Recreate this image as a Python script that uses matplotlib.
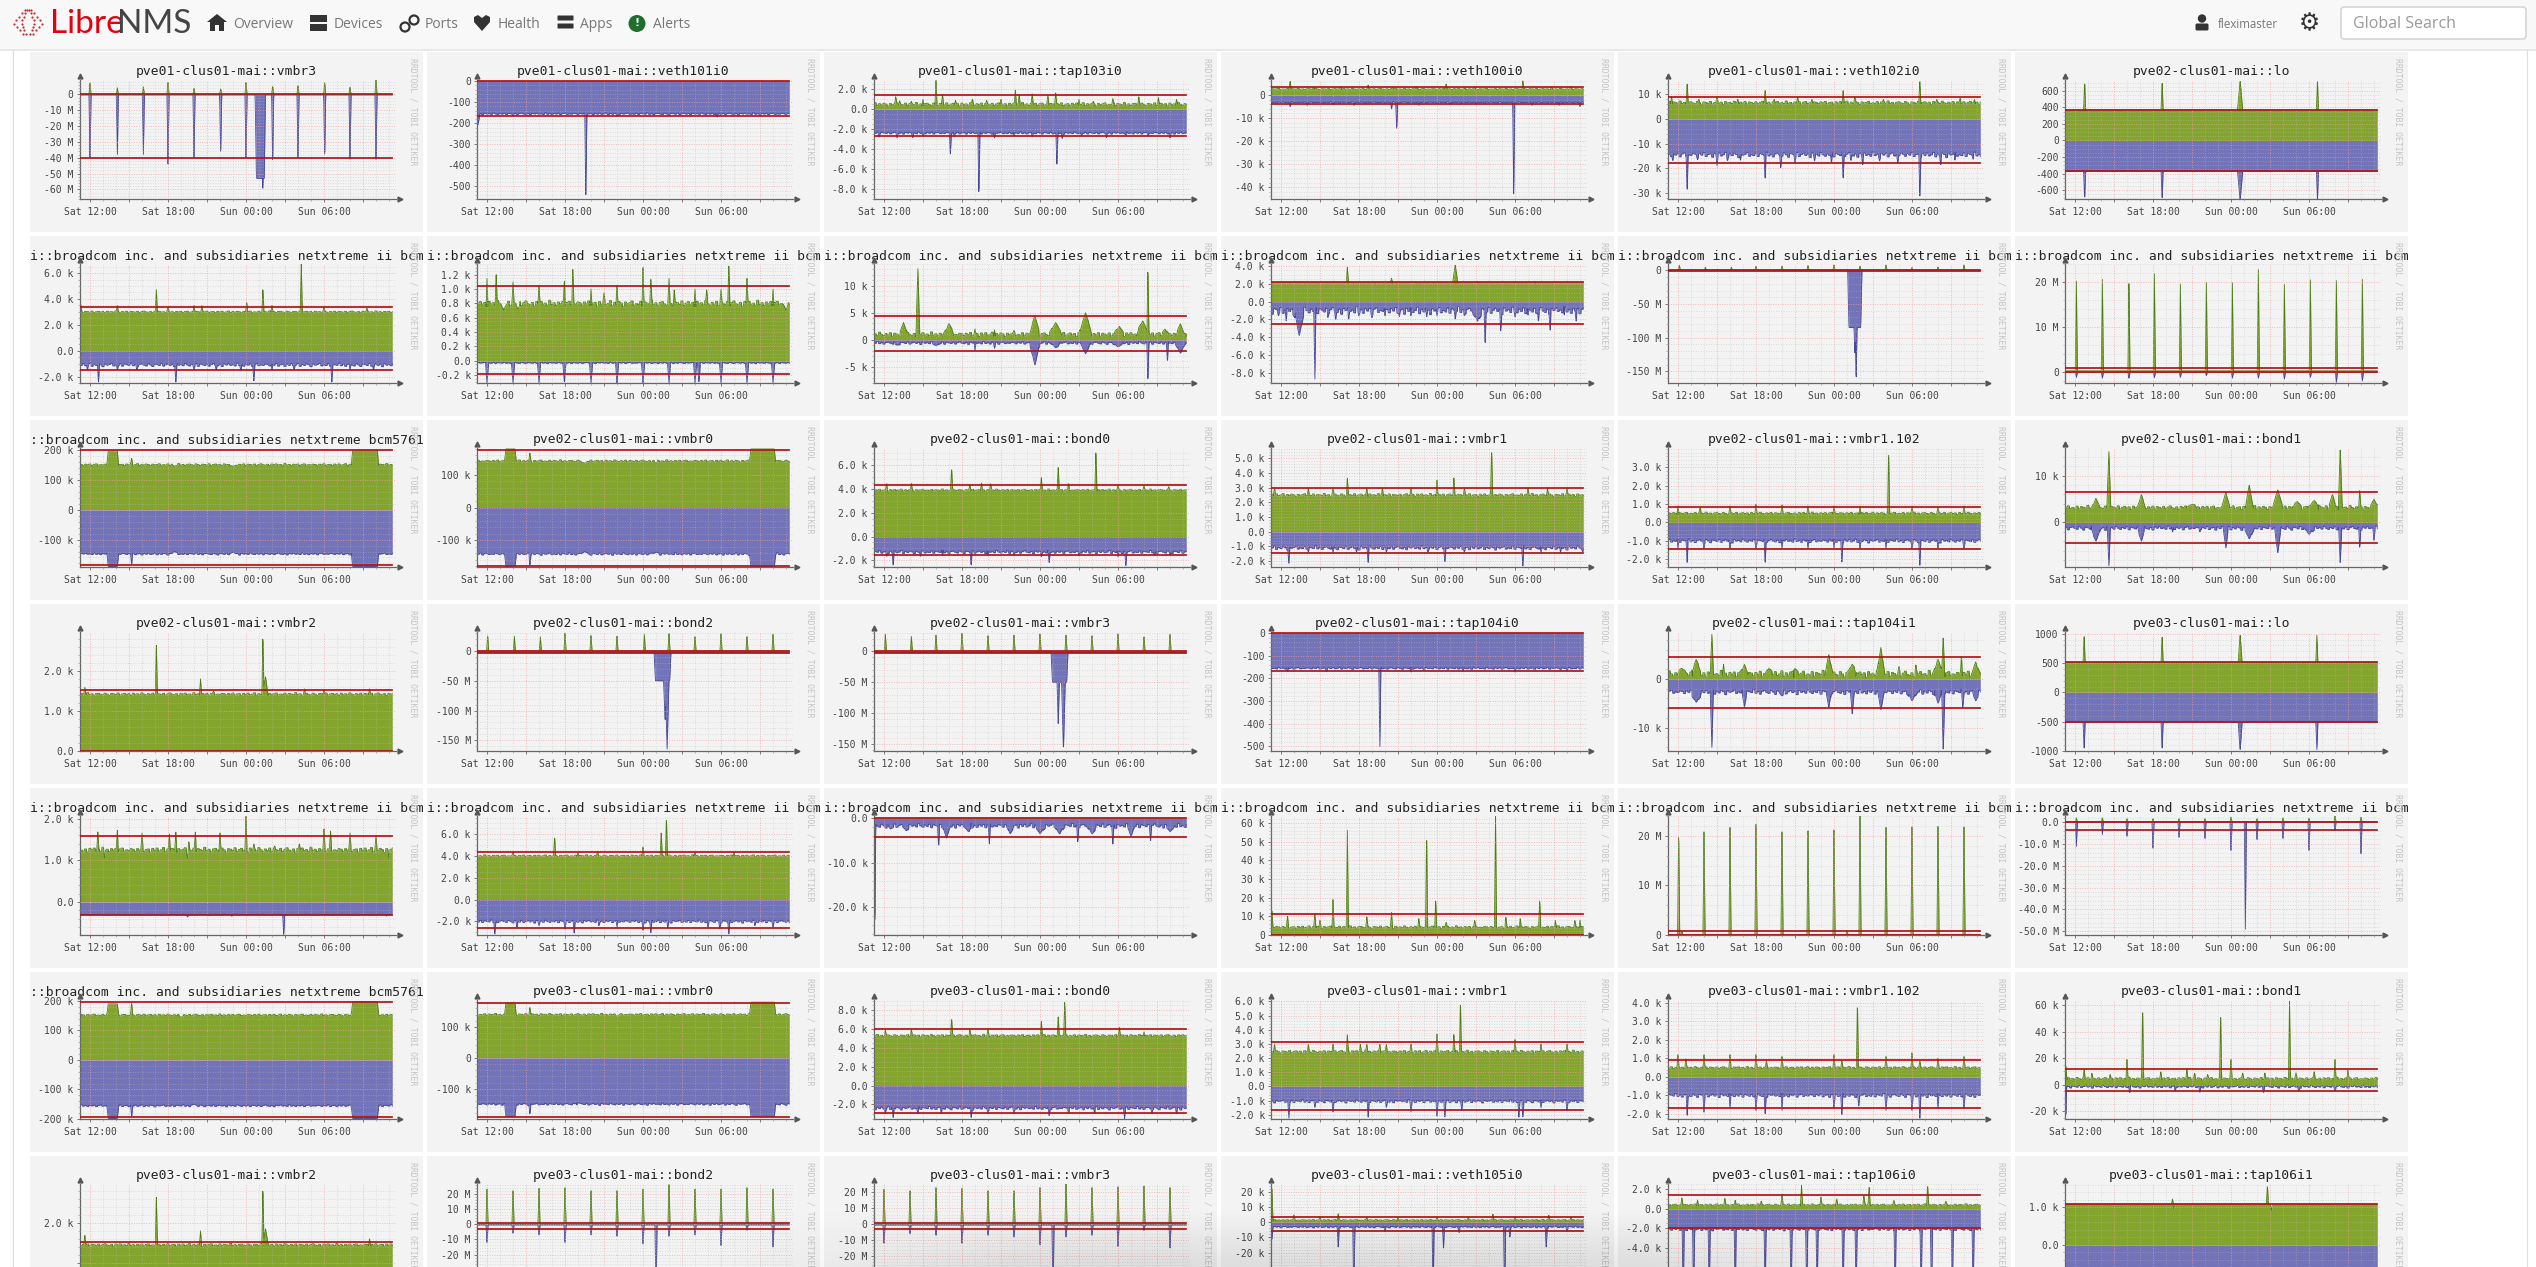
import numpy as np
import matplotlib
matplotlib.use("Agg")
import matplotlib.pyplot as plt
from matplotlib.patches import Rectangle, Circle, Polygon, FancyBboxPatch

BROAD_II = "i::broadcom inc. and subsidiaries netxtreme ii bcm"
BROAD_61 = "::broadcom inc. and subsidiaries netxtreme bcm5761"

TITLES = [
    "pve01-clus01-mai::vmbr3", "pve01-clus01-mai::veth101i0", "pve01-clus01-mai::tap103i0",
    "pve01-clus01-mai::veth100i0", "pve01-clus01-mai::veth102i0", "pve02-clus01-mai::lo",
    BROAD_II, BROAD_II, BROAD_II, BROAD_II, BROAD_II, BROAD_II,
    BROAD_61, "pve02-clus01-mai::vmbr0", "pve02-clus01-mai::bond0",
    "pve02-clus01-mai::vmbr1", "pve02-clus01-mai::vmbr1.102", "pve02-clus01-mai::bond1",
    "pve02-clus01-mai::vmbr2", "pve02-clus01-mai::bond2", "pve02-clus01-mai::vmbr3",
    "pve02-clus01-mai::tap104i0", "pve02-clus01-mai::tap104i1", "pve03-clus01-mai::lo",
    BROAD_II, BROAD_II, BROAD_II, BROAD_II, BROAD_II, BROAD_II,
    BROAD_61, "pve03-clus01-mai::vmbr0", "pve03-clus01-mai::bond0",
    "pve03-clus01-mai::vmbr1", "pve03-clus01-mai::vmbr1.102", "pve03-clus01-mai::bond1",
    "pve03-clus01-mai::vmbr2", "pve03-clus01-mai::bond2", "pve03-clus01-mai::vmbr3",
    "pve03-clus01-mai::veth105i0", "pve03-clus01-mai::tap106i0", "pve03-clus01-mai::tap106i1",
]

# tick labels, the numbers are read back from the strings
Y_LABELS = [
    ["0", "-10 M", "-20 M", "-30 M", "-40 M", "-50 M", "-60 M"],
    ["0", "-100", "-200", "-300", "-400", "-500"],
    ["2.0 k", "0.0", "-2.0 k", "-4.0 k", "-6.0 k", "-8.0 k"],
    ["0", "-10 k", "-20 k", "-30 k", "-40 k"],
    ["10 k", "0", "-10 k", "-20 k", "-30 k"],
    ["600", "400", "200", "0", "-200", "-400", "-600"],
    ["6.0 k", "4.0 k", "2.0 k", "0.0", "-2.0 k"],
    ["1.2 k", "1.0 k", "0.8 k", "0.6 k", "0.4 k", "0.2 k", "0.0", "-0.2 k"],
    ["10 k", "5 k", "0", "-5 k"],
    ["4.0 k", "2.0 k", "0.0", "-2.0 k", "-4.0 k", "-6.0 k", "-8.0 k"],
    ["0", "-50 M", "-100 M", "-150 M"],
    ["20 M", "10 M", "0"],
    ["200 k", "100 k", "0", "-100 k"],
    ["100 k", "0", "-100 k"],
    ["6.0 k", "4.0 k", "2.0 k", "0.0", "-2.0 k"],
    ["5.0 k", "4.0 k", "3.0 k", "2.0 k", "1.0 k", "0.0", "-1.0 k", "-2.0 k"],
    ["3.0 k", "2.0 k", "1.0 k", "0.0", "-1.0 k", "-2.0 k"],
    ["10 k", "0"],
    ["2.0 k", "1.0 k", "0.0"],
    ["0", "-50 M", "-100 M", "-150 M"],
    ["0", "-50 M", "-100 M", "-150 M"],
    ["0", "-100", "-200", "-300", "-400", "-500"],
    ["0", "-10 k"],
    ["1000", "500", "0", "-500", "-1000"],
    ["2.0 k", "1.0 k", "0.0"],
    ["6.0 k", "4.0 k", "2.0 k", "0.0", "-2.0 k"],
    ["0.0", "-10.0 k", "-20.0 k"],
    ["60 k", "50 k", "40 k", "30 k", "20 k", "10 k", "0"],
    ["20 M", "10 M", "0"],
    ["0.0", "-10.0 M", "-20.0 M", "-30.0 M", "-40.0 M", "-50.0 M"],
    ["200 k", "100 k", "0", "-100 k", "-200 k"],
    ["100 k", "0", "-100 k"],
    ["8.0 k", "6.0 k", "4.0 k", "2.0 k", "0.0", "-2.0 k"],
    ["6.0 k", "5.0 k", "4.0 k", "3.0 k", "2.0 k", "1.0 k", "0.0", "-1.0 k", "-2.0 k"],
    ["4.0 k", "3.0 k", "2.0 k", "1.0 k", "0.0", "-1.0 k", "-2.0 k"],
    ["60 k", "40 k", "20 k", "0", "-20 k"],
    ["2.0 k", "1.0 k"],
    ["20 M", "10 M", "0", "-10 M", "-20 M"],
    ["20 M", "10 M", "0", "-10 M", "-20 M"],
    ["20 k", "10 k", "0", "-10 k", "-20 k", "-30 k"],
    ["2.0 k", "0.0", "-2.0 k", "-4.0 k", "-6.0 k"],
    ["1.0 k", "0.0"],
]

Y_LOW = [-66.1, -560, -9.05, -45.1, -32.4, -709, -2.5, -0.31, -8, -9.1, -167.4, -2.4, -192, -183,
         -2.56, -2.4, -2.42, -9.5, 0, -168, -161, -522, -14.8, -1000, -0.79, -3.24, -26.2, 0, 0,
         -51.7, -200, -198, -3.55, -2.3, -2.27, -26, 0, -51.9, -49.7, -53.5, -9.7, -1.55]
Y_HIGH = [9.1, 6, 2.95, 6.5, 15.7, 733, 6.7, 1.35, 14, 4.2, 9.4, 24, 208, 183,
          7.44, 5.7, 4.05, 15.9, 2.97, 32, 31, 6, 9.6, 1030, 2.06, 7.64, 0.5, 63.8, 24,
          2.75, 203, 187, 9.08, 6.1, 4.15, 64, 2.97, 26.4, 25.3, 25.5, 2.55, 1.62]

IN_BASE = [0, 0, 0.5, 2.6, 6.5, 370, 3.0, 0.8, 1.0, 2.1, 0, 0.3, 152, 143,
           3.9, 2.5, 0.5, 3.2, 1.42, 0, 0, 0, 1.0, 510, 1.25, 4.0, 0, 4.2, 0.1,
           0, 152, 140, 5.3, 2.45, 0.5, 4.5, 1.45, 0, 0, 1.5, 0.4, 1.08]
OUT_BASE = [-0.3, -155, -2.4, -3.2, -14.5, -370, -1.1, -0.03, -0.6, -1.0, 0, 0, -148, -143,
            -1.3, -1.1, -1.0, -1.2, 0, -2, -2, -155, -2.7, -510, -0.3, -2.0, -1.7, 0, 0,
            0, -155, -150, -2.4, -1.05, -1.0, -1.5, 0, -0.5, -0.5, -3, -2.1, -1.08]
IN_95 = [0, 0, 1.4, 3.5, 9, 370, 3.35, 1.05, 4.4, 2.2, 0, 0.95, 200, 178,
         4.3, 2.95, 0.85, 6.6, 1.53, 0, 0, 0, 4.5, 510, 1.58, 4.35, 0, 11, 0.8,
         0, 195, 177, 6.05, 3.16, 0.93, 11.5, 1.53, 0.5, 0.7, 3.5, 1.4, 1.1]
OUT_95 = [-40, -165, -2.7, -3.8, -18, -370, -1.5, -0.19, -2.1, -2.55, -1, 0, -185, -180,
          -1.55, -1.43, -1.45, -4.4, 0, -4, -3, -165, -5.9, -510, -0.3, -2.6, -4.2, 0, 0,
          -3.6, -193, -191, -2.95, -1.65, -1.67, -4.5, 0, -3.3, -3.2, -5.5, -2.0, -1.1]

# how much each edge shakes around its base, same units as the labels
IN_SHAKE = [0, 0, 0.2, 0.3, 0.8, 0, 0.08, 0.05, 0.5, 0.02, 0, 0, 4, 4,
            0.1, 0.12, 0.07, 0.5, 0.04, 0, 0, 0, 0.8, 0, 0.07, 0.1, 0, 0.8, 0,
            0, 4, 4, 0.15, 0.12, 0.07, 1.2, 0.04, 0, 0, 0.6, 0.12, 0]
OUT_SHAKE = [0, 5, 0.12, 0.3, 1.2, 0, 0.15, 0.01, 0.3, 0.5, 0, 0, 4, 4,
             0.15, 0.15, 0.12, 0.5, 0, 0, 0, 5, 0.6, 0, 0.01, 0.15, 0.6, 0, 0,
             0, 4, 4, 0.2, 0.12, 0.12, 1.2, 0, 0, 0, 0.7, 0.18, 0]

# edge profile, 10 minute steps, scaled by the *_SHAKE lists
EDGE_SHAKE = [0.2, -0.5, 0.4, -0.1, 0.7, -0.6, 0.1, 0.3, -0.8, 0.5, -0.2, 0.6, -0.4, 0.0, 0.8, -0.7,
              0.3, -0.3, 0.5, 0.1, -0.9, 0.4, -0.1, 0.2, 0.7, -0.5, 0.0, -0.3, 0.6, -0.6, 0.4, 0.1,
              -0.2, 0.9, -0.4, 0.2, -0.7, 0.3, 0.5, -0.1, -0.5, 0.6, 0.0, -0.8, 0.4, 0.2, -0.3, 0.7,
              -0.6, 0.1, 0.5, -0.2, 0.3, -0.9, 0.6, -0.1, 0.2, -0.4, 0.8, 0.0, -0.5, 0.3, -0.2, 0.6,
              -0.7, 0.4, 0.1, -0.3, 0.5, -0.6, 0.2, 0.7, -0.1, -0.4, 0.3, -0.8, 0.5, 0.0, 0.6, -0.2,
              0.1, -0.5, 0.9, -0.3, 0.2, -0.6, 0.4, -0.1, 0.5, -0.7, 0.3, 0.6, -0.4, 0.0, -0.2, 0.4]

# peaks: (hour, value), or (hour, value, half width), or
# (hour, value, half width, flat half width). hour counts from Saturday 00:00
IN_PEAKS = [
    [(12, 7), (14.1, 4.4), (16.1, 5), (18, 7.5), (20, 3.8), (22.05, 3.8), (24, 7.5), (26.05, 5.5), (28, 5.5), (30.05, 8), (32, 4.4), (34, 9)],
    [],
    [(12.9, 1.3), (13.2, 0.9), (14.1, 0.8), (15, 1.0), (16, 2.9), (16.5, 1.5), (17.5, 0.9), (18.8, 1.1), (19.9, 0.9), (21, 1.0), (22.1, 2.0), (22.4, 1.5), (23.4, 1.6), (24.6, 1.5), (25.2, 1.8), (27, 1.0), (28.1, 0.8), (29.6, 1.1), (31.6, 1.3), (33.1, 1.2), (34.5, 1.0)],
    [(12.7, 6.3), (14.5, 3.4), (16.6, 3.6), (18.7, 4.5), (20.6, 3.3), (22.4, 3.5), (24.7, 5), (26.9, 3.5), (30.6, 6.3), (32.8, 3.4), (34.3, 3.8)],
    [(11.5, 9), (12.7, 15), (13.6, 8), (15, 9), (16.6, 8), (18.7, 12), (19.4, 8), (21.2, 9), (22.3, 8), (24.7, 12), (25.6, 9), (27.8, 8), (30.6, 15.5), (31.9, 8), (33.7, 8.5), (34.8, 8)],
    [(12.74, 730), (18.7, 730), (24.7, 730, 0.2), (30.65, 730)],
    [(11.3, 3.6), (14.1, 3.5), (17.1, 4.8), (18, 3.4), (20, 3.5), (20.6, 3.5), (24.05, 3.8), (25.3, 4.9), (26, 3.5), (28.25, 6.7), (30, 3.4), (33.3, 3.3)],
    [(12, 1.15), (12.7, 1.25), (13.3, 0.7, 0.2), (14, 1.1), (14.4, 0.72, 0.2), (16, 1.05), (17.95, 1.15), (18.6, 1.3), (20, 1.0), (21, 0.95), (22, 1.05), (24, 1.3), (24.6, 1.15), (26, 1.15), (26.4, 1.0), (28, 1.0), (28.9, 1.0), (30, 1.0), (30.6, 1.35), (32, 1.15), (34, 1.0), (35, 0.7, 0.2)],
    [(13.5, 3.2, 0.3), (14.6, 13.5, 0.15), (17, 3, 0.4), (19, 2), (20.5, 1.8), (22, 1.7), (23.6, 4.5, 0.4), (25.2, 3.2, 0.5), (27.5, 5, 0.5), (30.1, 2.5, 0.4), (31.9, 3.5, 0.5), (32.3, 13.8), (33.6, 2, 0.3), (34.8, 3, 0.3)],
    [(17.1, 3.9), (20.5, 2.6), (25.4, 4.1, 0.2), (27.1, 2.25), (31.5, 2.25)],
    [(12.1, 8), (14.1, 5), (16.1, 5), (18, 6), (20, 6), (22, 7), (24, 8), (26, 6), (28, 8), (30, 4), (32, 5), (34, 8)],
    [(12.1, 21.3), (14.1, 21.7), (16.15, 20.7), (18.1, 23), (20.1, 20.6), (22.1, 21), (24.1, 20.9), (26.1, 24), (28.1, 20.5), (30.1, 21.6), (32.1, 21.4), (34.1, 21.7)],
    [(13.75, 198, 0.1, 0.35), (15.2, 175), (18.5, 147, 0.3), (23, 146, 0.3), (33.15, 200, 0.1, 0.95)],
    [(13.8, 180, 0.1, 0.35), (15.3, 170), (19.5, 136, 0.3), (25, 138, 0.3), (33.2, 180, 0.1, 0.9)],
    [(12.2, 4.5), (14.1, 4.5), (17.2, 5.8), (18.6, 4.4), (19.5, 4.5), (20.2, 4.5), (24.1, 5), (25.4, 5.9), (26.2, 4.5), (28.3, 7.4), (30, 4.4), (32, 4.3), (33.9, 4.2)],
    [(11.5, 3), (14.1, 3), (16, 3), (17.1, 3.7), (18.6, 3), (19.8, 3), (22, 3), (24, 3.5), (25.3, 3.8), (26.1, 3), (28.2, 5.7), (31, 3), (32.5, 3), (34, 3)],
    [(12, 0.9), (13.7, 0.85), (16, 0.9), (18, 1), (20, 0.95), (22, 0.9), (24, 0.9), (26, 0.9), (28.2, 4), (30, 0.9), (32, 0.85), (34, 0.9)],
    [(13.6, 5.2, 0.3), (14.6, 15.5, 0.15), (17.1, 6, 0.3), (21, 3.9, 0.5), (23.6, 6.5, 0.3), (25.4, 8, 0.3), (27.6, 7, 0.4), (29.1, 4.5, 0.4), (30.4, 4.7, 0.5), (31.8, 6, 0.3), (32.4, 15.8, 0.15), (33.9, 7), (35, 5, 0.3)],
    [(11.6, 1.6), (17.1, 2.7), (20.5, 1.8), (21.5, 1.5), (25.3, 2.95), (25.5, 1.85, 0.2), (28.5, 1.55), (30, 1.52), (33.5, 1.55)],
    [(12.05, 28), (14.1, 26), (16.1, 25), (18, 30), (20, 26), (22, 25), (24.1, 29), (26, 29), (28, 24), (30, 29), (32, 24), (34, 28)],
    [(12.1, 29), (14.1, 25), (16, 26), (18, 29), (20, 25), (22, 26), (24, 28), (26, 26), (28, 25), (30, 28), (32, 23), (34, 27)],
    [],
    [(12.3, 2.2, 0.4), (13.4, 4, 0.4), (14.6, 9.4, 0.12), (15.5, 3), (17.1, 3, 0.3), (19, 2.2, 0.3), (21, 2.2, 0.3), (23.6, 5, 0.3), (25.4, 3, 0.4), (27.6, 6.5, 0.3), (29, 2.5), (30.3, 3), (32, 4, 0.4), (32.4, 8.6, 0.12), (33.8, 5), (34.9, 3.5, 0.3)],
    [(12.7, 1000), (18.7, 990), (24.7, 1000, 0.15), (30.6, 1000)],
    [(12.6, 1.7), (13.1, 1.05), (14.1, 1.75), (16, 1.65), (18.1, 1.65), (18.6, 1.7), (19.5, 1.05), (19.6, 1.45), (20.1, 1.7), (22, 1.65), (24, 2.05), (24.6, 1.4), (26.2, 1.35), (28.1, 1.4), (30, 1.75), (30.5, 1.7), (32, 1.65), (34, 1.6), (35, 1.05)],
    [(14, 4.4), (17.2, 5.8), (19, 4.3), (20.5, 4.4), (24, 4.8), (25.4, 6.2), (25.8, 7.6), (28, 4.3), (31, 4.35)],
    [],
    [(11.3, 14), (12.5, 10), (14.6, 12), (15, 8), (16, 19), (17.1, 59), (18.6, 10), (20.5, 12), (22.6, 9), (23.2, 56), (23.9, 19), (24.7, 7), (26.9, 8), (28.5, 63.5), (29.3, 10), (30.4, 9), (31.9, 19), (33.1, 8), (34.6, 8), (35, 8)],
    [(12.05, 22), (12.3, 0.8), (14, 20.8), (16, 21.7), (18, 22.3), (20, 20.8), (22, 21), (24, 21.2), (26, 24), (25, 0.9), (28, 21.7), (30, 21.8), (32, 21.9), (34, 21.8)],
    [(12.1, 2), (14.1, 2), (16, 1.5), (18, 1.5), (20, 1.5), (22, 1.5), (24, 2.2), (26, 1.5), (28, 1.8), (30, 1.8), (32, 2.7), (34, 2.2)],
    [(13.75, 190, 0.1, 0.35), (15.2, 195), (19, 145, 0.3), (33.15, 198, 0.1, 0.95)],
    [(13.8, 178, 0.1, 0.35), (15.3, 165), (22, 135, 0.3), (33.2, 180, 0.1, 0.9)],
    [(12.1, 5.9), (14.1, 6), (17.2, 7.2), (18.6, 6), (20, 6), (24.1, 6.9), (25.4, 7.4), (25.9, 9), (30.1, 6.2), (32, 5.7)],
    [(11.5, 3), (14.1, 3), (16, 3), (17.1, 3.7), (18.1, 3), (18.6, 3), (19.6, 3), (20.1, 3), (22, 3), (24, 3.7), (25.3, 3.8), (25.8, 6.1), (30, 3.3), (32, 3), (34, 3)],
    [(12, 1.2), (12.6, 1), (14, 1.2), (16, 1.2), (18, 1.2), (18.8, 0.9), (20, 1.1), (24, 1.2), (24.6, 0.9), (25.8, 4.1), (28, 1.1), (30, 1.3), (30.6, 0.9), (32, 1), (34, 1.1)],
    [(11.3, 15), (12.7, 12), (13.3, 9), (14.7, 8), (16, 19), (17.2, 60), (18.6, 10), (20.6, 12), (21.2, 9), (22.2, 8), (23.2, 56), (24, 19), (24.9, 9), (26.6, 9), (28.5, 63), (29, 9), (30.4, 10), (32, 19), (33, 11)],
    [(11.6, 1.7), (17.1, 2.7), (20.5, 1.8), (25.3, 2.95), (25.5, 1.85, 0.2), (33.5, 1.6)],
    [(12, 23), (14, 22), (16, 23.5), (18, 24), (20, 22), (22, 22), (24, 23), (26, 26), (28, 23), (30, 23), (32, 24), (34, 23)],
    [(12, 22), (14, 21), (16, 23), (18, 22.5), (20, 21), (22, 21), (24, 23), (26, 26), (28, 23), (30, 23.5), (32, 24), (34, 23)],
    [(11.3, 25), (13, 5), (15, 3.5), (16.4, 6), (18.6, 3.5), (21, 3.5), (24, 3.5), (26.4, 3.5), (28.3, 6), (30, 3.5), (32.6, 5), (34.3, 3.5)],
    [(12.3, 1.2), (13.5, 0.9), (15.6, 1.1), (16.4, 0.9), (18.4, 0.8), (20, 1.5), (21.5, 2.4), (23, 1.2), (24.2, 1.1), (26.3, 1.4), (26.7, 2.4), (28.6, 0.9), (31.2, 2.5), (32.6, 0.8)],
    [(19.5, 1.22), (19.6, 0.95), (26.8, 1.6), (27.1, 0.9)],
]
OUT_PEAKS = [
    [(12, -40), (14.1, -40), (16.1, -40), (18, -44), (20, -40), (22.05, -40), (24, -40), (25.1, -53, 0.1, 0.3), (25.3, -66.1), (26.05, -46), (28, -40), (30.05, -42), (32, -41), (34, -41)],
    [(11.3, -210, 0.15), (14, -165), (19.6, -560), (22, -168), (26, -165), (29.7, -172), (33, -165)],
    [(11.6, -2.8), (13, -2.9), (14.2, -2.9), (15, -2.7), (17.1, -4.6), (17.4, -2.8), (19.3, -9), (20.5, -2.9), (22, -2.7), (23.4, -2.8), (25.3, -5.9), (25.7, -3), (27.2, -2.7), (29.1, -2.9), (30.6, -2.7), (32.3, -2.7), (34, -2.9)],
    [(12.7, -5.2), (14, -4.5), (16, -4.2), (17.6, -4.5), (20.5, -6), (20.9, -15), (22.6, -4.5), (25, -4.2), (27, -4.2), (29.9, -45), (31.3, -4.5), (33.4, -4.5), (35, -5)],
    [(11.6, -17), (12.7, -30), (13.5, -16.5), (15, -19), (15.8, -17), (16.8, -17), (18.7, -25), (19.9, -20), (21, -18), (22.5, -17), (23.8, -18), (24.7, -25), (25.3, -17), (26.2, -19), (27.5, -17), (28.9, -18), (30.6, -32), (32.2, -19), (33.3, -17), (34.7, -16.5)],
    [(12.74, -730), (18.7, -730), (24.7, -730, 0.2), (30.65, -730)],
    [(11.8, -1.5), (12.65, -2.5), (14.1, -1.5), (15.6, -1.5), (18.6, -2.5), (20, -1.5), (21.7, -1.5), (23.6, -1.6), (24.6, -2.4), (26, -1.5), (27.7, -1.5), (30.6, -2.5), (32, -1.5), (33.8, -1.5)],
    [(12, -0.31, 0.12), (14, -0.31, 0.12), (16, -0.31, 0.12), (17.95, -0.31, 0.12), (20, -0.31, 0.12), (22, -0.31, 0.12), (24, -0.31, 0.12), (26, -0.31, 0.12), (28, -0.31, 0.12), (28.3, -0.31, 0.12), (30, -0.31, 0.12), (32, -0.31, 0.12), (34, -0.31, 0.12)],
    [(13, -1, 0.4), (16, -1.1, 0.4), (19, -2), (20.5, -1.6), (23.6, -4.7, 0.4), (25.2, -1.5, 0.4), (27.5, -2.6, 0.4), (30, -1.3, 0.5), (32.3, -8), (33.8, -4.2), (34.8, -2.5, 0.4)],
    [(11.8, -1.6), (12.4, -2.2), (13, -1.7), (13.4, -3.8, 0.4), (14.6, -9.1), (15.6, -1.8), (16.2, -2.1), (17.2, -2.1), (18, -1.6), (19, -1.8), (20, -1.6), (21.1, -1.7), (22, -1.6), (23.2, -1.8), (24, -1.6), (25.4, -2), (26.1, -1.6), (27.1, -2.2, 0.4), (27.7, -5), (28.9, -3.4), (30, -1.7), (31, -1.5), (31.8, -2.3), (32.7, -3.4), (33.8, -1.6), (34.7, -2.3)],
    [(25.6, -85, 0.1, 0.45), (25.6, -125, 0.2), (25.7, -167.4, 0.15)],
    [(12.1, -1.2), (14.1, -1.4), (16.15, -1.4), (18.1, -1.3), (20.1, -1.2), (22.1, -0.8), (24.1, -1.4), (26.1, -1.4), (28.1, -1.6), (30.1, -1.2), (32.1, -2.4), (34.1, -2)],
    [(13.75, -190, 0.1, 0.35), (15.2, -185), (18.5, -140, 0.3), (23, -142, 0.3), (33.15, -190, 0.1, 0.95)],
    [(13.8, -182, 0.1, 0.35), (15.3, -180), (19.5, -135, 0.3), (25, -137, 0.3), (33.2, -182, 0.1, 0.9)],
    [(12.2, -1.7), (12.7, -2.5), (14.8, -1.7), (16.5, -1.6), (18.7, -2.5), (20, -1.6), (22, -1.6), (24.1, -1.7), (24.7, -2.3), (27, -1.6), (30, -1.7), (30.6, -2.5), (32.8, -1.6), (34, -1.5)],
    [(12.6, -2.2), (14.1, -1.4), (16, -1.4), (17.8, -1.4), (18.7, -2.2), (20.1, -1.4), (23.3, -1.4), (24.6, -2.1), (26.1, -1.4), (30.6, -2.4), (32, -1.4), (33.5, -1.4), (35.2, -1.4)],
    [(12, -1.4), (12.7, -2.3), (14, -1.4), (16, -1.4), (18, -1.4), (18.7, -2.3), (20, -1.4), (22, -1.4), (24, -1.4), (24.6, -2.2), (26, -1.4), (28, -1.4), (30, -1.4), (30.6, -2.4), (32, -1.4), (34, -1.4)],
    [(13.6, -4, 0.4), (14.6, -9.5, 0.12), (17.1, -4, 0.3), (19.5, -2), (21.6, -2), (23.6, -5.5, 0.2), (25.4, -3.5, 0.4), (27.6, -6.5, 0.25), (30, -2.5, 0.4), (32.4, -8.8, 0.12), (33.9, -5.5), (35, -3.8)],
    [],
    [(25.5, -50, 0.1, 0.55), (25.7, -120, 0.2), (25.85, -168, 0.2)],
    [(25.5, -50, 0.1, 0.55), (25.4, -120, 0.15), (25.8, -161, 0.2)],
    [(12.5, -170), (15.5, -170), (19.6, -522), (22, -172), (26, -170), (30, -172), (34, -168)],
    [(13.4, -4.8, 0.5), (14.6, -14.5, 0.12), (17.1, -5.8, 0.2), (20, -3.5, 0.3), (23.6, -5.9, 0.2), (25.4, -7.3, 0.15), (27.6, -6.4, 0.25), (30, -4.5, 0.4), (32, -5, 0.3), (32.4, -14.8, 0.12), (33.9, -6, 0.1), (34.9, -4.5, 0.3)],
    [(12.7, -1000), (18.7, -1000), (24.7, -1000, 0.15), (30.6, -1000)],
    [(12, -0.32), (19.5, -0.36), (22.9, -0.34), (26.9, -0.8), (34.8, -0.34)],
    [(12.6, -3.2), (14.3, -2.6), (16, -2.4), (18, -2.7), (18.7, -3.2), (20.6, -2.4), (22, -2.5), (24, -2.8), (24.6, -3.1), (25.9, -2.6), (29, -2.5), (29.9, -2.7), (30.6, -3.2), (32.6, -2.4), (34, -2.5)],
    [(11.3, -26.2, 0.06), (12.5, -2.4, 0.3), (13.7, -2.8, 0.3), (16.2, -6.5), (16.8, -4.5, 0.3), (18.5, -3, 0.4), (20.1, -6), (21.7, -3.5, 0.3), (24, -3.5, 0.4), (25.5, -3.5, 0.4), (26.9, -5.5), (28, -3.5, 0.4), (29.6, -6), (31, -4, 0.3), (32.5, -5), (34, -3, 0.4)],
    [],
    [],
    [(12.1, -11.8), (14.1, -6), (16, -6.5), (18, -12), (20, -7), (22, -7.5), (24, -13), (25.1, -51.7), (26, -8), (28, -7.5), (30, -13), (32, -4), (34, -14.5)],
    [(13.75, -198, 0.1, 0.35), (15.2, -195), (20, -150, 0.3), (33.15, -198, 0.1, 0.95)],
    [(13.8, -190, 0.1, 0.35), (15.3, -185), (19, -145, 0.3), (33.2, -190, 0.1, 0.9)],
    [(12.1, -3), (12.7, -3.5), (14.6, -3), (16.4, -3), (18.7, -3.5), (20, -3), (22, -3), (24.7, -3.3), (26.2, -3), (28.2, -3), (30.5, -3.5), (32.6, -3), (34.5, -3)],
    [(12.6, -2.3), (14.6, -1.5), (16, -1.8), (18.7, -2.3), (20.1, -1.5), (22, -1.8), (24, -2.1), (24.6, -2.2), (25.9, -1.7), (30.3, -2.3), (30.6, -2.2), (32, -1.5), (34, -1.7)],
    [(12.7, -2.2), (14, -1.9), (16, -1.7), (18, -1.8), (18.7, -2.1), (20, -1.8), (24, -1.7), (24.6, -2.1), (25.9, -1.6), (28, -1.8), (30, -1.8), (30.6, -2.3), (32, -1.7), (34, -1.7)],
    [(11.3, -26, 0.06), (16.2, -6.5), (19.7, -5), (21.6, -6), (26.5, -6), (29.2, -5.5), (32, -5)],
    [],
    [(12, -12), (14, -6), (16, -7), (18, -12), (20, -7), (22, -8), (24, -13), (25, -51.9), (26, -8), (28, -7), (30, -14), (32, -4), (34, -15)],
    [(12, -12), (14, -6), (16, -7), (18, -12), (20, -7), (22, -8), (24, -13), (25, -49.7), (26, -8), (28, -7), (30, -14), (32, -4), (34, -15)],
    [(11.3, -12, 0.08), (16.4, -17), (17.6, -53), (20, -6), (23.7, -53), (24.5, -17), (25.7, -7), (29.2, -53), (29.6, -10), (32.4, -17), (34, -6)],
    [(12.4, -9.7), (13.2, -9.7), (14.4, -9.7), (16.4, -9.7), (18.7, -9.7), (20.7, -9.7), (21.9, -9.7), (22.7, -9.7), (24.7, -9.7), (25.7, -9.7), (28.7, -9.7), (30.7, -9.7), (31.5, -9.7), (33.1, -9.7), (34.7, -9.7)],
    [],
]

X_LABELS = ["Sat 12:00", "Sat 18:00", "Sun 00:00", "Sun 06:00"]
NAV_ITEMS = ["Overview", "Devices", "Ports", "Health", "Apps", "Alerts"]
NAV_X = [233, 334, 425, 498, 580, 653]

GREEN = "#84A52D"
GREEN_EDGE = "#4E7D14"
BLUE = "#7373B9"
BLUE_EDGE = "#474794"
RED = "#B31414"
LABEL_GREY = "#444444"
MONO = "DejaVu Sans Mono"
W, H = 2536, 1267
PANEL_W, PANEL_H = 393, 180
T_START, T_END = 11.25, 35.23

fig = plt.figure(figsize=(W / 100, H / 100), dpi=100, facecolor="white")
bg = fig.add_axes([0, 0, 1, 1])
bg.set_xlim(0, W)
bg.set_ylim(H, 0)
bg.axis("off")

# page furniture
bg.add_patch(Rectangle((0, 0), W, 49, fc="#F8F8F8", ec="none"))
bg.plot([0, W], [49.5, 49.5], color="#E4E4E4", lw=1.2)
bg.plot([13, 13], [50, H], color="#DDDDDD", lw=0.8)
bg.plot([2526.5, 2526.5], [50, H], color="#DDDDDD", lw=0.8)

# logo, diamond of red dots
for dy_row in np.arange(-13, 14, 3.4):
    for side in (-1, 1):
        for r in (0.45, 1.0):
            span = 15 * (1 - abs(dy_row) / 16)
            bg.plot(28 + side * span * r, 23 + dy_row, "o", ms=1.6, color="#D8262C", mec="none")
bg.text(50, 24, "Libre", color="#E3000F", family="Lato", size=24, va="center", ha="left")
bg.text(117, 24, "NMS", color="#444444", family="Lato", size=24, va="center", ha="left")

for label, x in zip(NAV_ITEMS, NAV_X):
    bg.text(x, 24, label, color="#777777", family="Open Sans", size=10, va="center", ha="left")

DARK = "#333333"
bg.add_patch(Polygon([[207, 22], [217, 14], [227, 22], [224, 22], [224, 31], [219, 31], [219, 25], [215, 25], [215, 31], [210, 31], [210, 22]], fc=DARK, ec="none"))
for yy in (15, 24):
    bg.add_patch(Rectangle((310, yy), 17, 6.5, fc=DARK, ec="none"))
bg.add_patch(Circle((405, 27), 4.5, fc="none", ec=DARK, lw=1.6))
bg.add_patch(Circle((414, 20), 4.5, fc="none", ec=DARK, lw=1.6))
bg.add_patch(Polygon([[474, 17], [478, 15], [482, 18], [486, 15], [490, 17], [490, 22], [482, 31], [474, 22]], fc=DARK, ec="none"))
for yy in (16, 24):
    bg.add_patch(FancyBboxPatch((558, yy), 15, 4, boxstyle="round,pad=0.5", fc=DARK, ec="none"))
bg.add_patch(Circle((637, 23.5), 8.5, fc="#1E6E2D", ec="none"))
bg.text(637, 23.5, "!", color="white", size=8, weight="bold", ha="center", va="center")

bg.add_patch(Circle((2202, 18.5), 4.2, fc=DARK, ec="none"))
bg.add_patch(FancyBboxPatch((2197, 25), 10, 4, boxstyle="round,pad=1.5", fc=DARK, ec="none"))
bg.text(2218, 24, "fleximaster", color="#777777", family="Open Sans", size=8.3, va="center", ha="left")
bg.text(2309.5, 23, "\u2699", color=DARK, family="DejaVu Sans", size=17, va="center", ha="center")
bg.add_patch(FancyBboxPatch((2341, 7), 185, 32, boxstyle="round,pad=0,rounding_size=3", fc="white", ec="#CFCFCF", lw=1))
bg.text(2353, 24, "Global Search", color="#999999", family="Open Sans", size=11.5, va="center", ha="left")

hours = np.arange(T_START, T_END + 1 / 48, 1 / 48)


def build_series(base, amount, shift, peaks):
    idx = (np.arange(len(hours)) // 8 + shift) % len(EDGE_SHAKE)
    edge = base + amount * np.array(EDGE_SHAKE)[idx]
    y = edge.copy()
    for peak in peaks:
        half = peak[2] if len(peak) > 2 else 0.08
        flat = peak[3] if len(peak) > 3 else 0.0
        shape = np.clip(1 - (np.abs(hours - peak[0]) - flat) / half, 0, 1)
        bump = edge + (peak[1] - edge) * shape
        y = np.where(np.abs(bump - base) > np.abs(y - base), bump, y)
    return y


for i, title in enumerate(TITLES):
    row, col = i // 6, i % 6
    px = 30 + 397 * col
    py = 52 + 184 * row
    rect = Rectangle((px, py), PANEL_W, PANEL_H, fc="#F3F3F3", ec="none")
    bg.add_patch(rect)
    t = bg.text(px + PANEL_W / 2, py + 20, title, family=MONO, size=9.4, color="#222222", ha="center", va="center")
    t.set_clip_path(rect)
    bg.text(px + 383, py + 60, "RRDTOOL / TOBI OETIKER", family=MONO, size=5.9, color="#C4C4C4",
            rotation=270, ha="center", va="center")

    ax = fig.add_axes([(px + 50) / W, 1 - (py + 147) / H, 316 / W, 119 / H], zorder=3)
    ax.patch.set_alpha(0)
    ax.set_xlim(T_START - 0.02, T_START - 0.02 + 316 / 13)
    ax.set_ylim(Y_LOW[i], Y_HIGH[i])
    in_line = build_series(IN_BASE[i], IN_SHAKE[i], i * 7, IN_PEAKS[i])
    out_line = build_series(OUT_BASE[i], OUT_SHAKE[i], i * 11 + 40, OUT_PEAKS[i])
    ax.fill_between(hours, 0, in_line, color=GREEN, lw=0, zorder=2)
    ax.fill_between(hours, 0, out_line, color=BLUE, lw=0, zorder=2)
    ax.plot(hours, in_line, color=GREEN_EDGE, lw=0.6, zorder=2.5)
    ax.plot(hours, out_line, color=BLUE_EDGE, lw=0.6, zorder=2.5)
    ax.plot([T_START, T_END], [IN_95[i], IN_95[i]], color=RED, lw=1.25, zorder=4)
    ax.plot([T_START, T_END], [OUT_95[i], OUT_95[i]], color=RED, lw=1.25, zorder=4)

    # grid on top of the areas like rrdtool does
    ticks = [float(s.split()[0]) for s in Y_LABELS[i]]
    # last row runs off the page, keep only the labels that land on it
    per_unit = 119 / (Y_HIGH[i] - Y_LOW[i])
    shown = [s if py + 28 + (Y_HIGH[i] - v) * per_unit < H - 6 else "" for s, v in zip(Y_LABELS[i], ticks)]
    ax.set_yticks(ticks)
    ax.set_yticklabels(shown, family=MONO, size=7, color=LABEL_GREY)
    step = abs(ticks[0] - ticks[1])
    lead = int(f"{step:e}"[0])
    minor = step / (4 if lead == 2 else 5)
    ax.set_yticks(np.arange(np.ceil(Y_LOW[i] / minor), np.floor(Y_HIGH[i] / minor) + 1) * minor, minor=True)
    major_x = np.arange(12, 36, 3)
    ax.set_xticks(major_x)
    if py + 156 < H:
        ax.set_xticklabels([X_LABELS[(h - 12) // 6] if (h - 12) % 6 == 0 else "" for h in major_x], family=MONO, size=7, color=LABEL_GREY)
    else:
        ax.set_xticklabels([])
    ax.set_xticks(np.arange(12, 36), minor=True)
    ax.grid(True, which="minor", color="#BBBBBB", lw=0.6, ls=(0, (1, 2)), alpha=0.55, zorder=3)
    ax.grid(True, which="major", color="#F3A0A0", lw=0.7, ls=(0, (1, 1.5)), alpha=0.7, zorder=3)
    ax.set_axisbelow(False)
    ax.tick_params(axis="both", which="major", length=2.5, width=0.6, color="#666666", pad=2)
    ax.tick_params(axis="both", which="minor", length=1.2, width=0.4, color="#888888")
    ax.tick_params(axis="x", which="major", pad=3.5)
    for name in ("top", "right"):
        ax.spines[name].set_visible(False)
    for name in ("left", "bottom"):
        ax.spines[name].set_color("#666666")
        ax.spines[name].set_linewidth(0.9)
    ax.plot(1.012, 0, ">", transform=ax.transAxes, clip_on=False, ms=3.5, color="#555555", zorder=5)
    ax.plot(0, 1.03, "^", transform=ax.transAxes, clip_on=False, ms=3.5, color="#555555", zorder=5)

# soft shadow lying over the bottom of the page
shade = fig.add_axes([700 / W, 0, 1250 / W, 60 / H], zorder=6)
shade.axis("off")
ramp_y = np.linspace(0, 0.09, 30)[:, None]
ramp_x = np.minimum(np.linspace(0, 4, 200), 1) * np.minimum(np.linspace(4, 0, 200), 1)
rgba = np.zeros((30, 200, 4))
rgba[..., 3] = ramp_y * ramp_x[None, :]
shade.imshow(rgba, aspect="auto", interpolation="bilinear")

fig.savefig("out.png", dpi=100)
